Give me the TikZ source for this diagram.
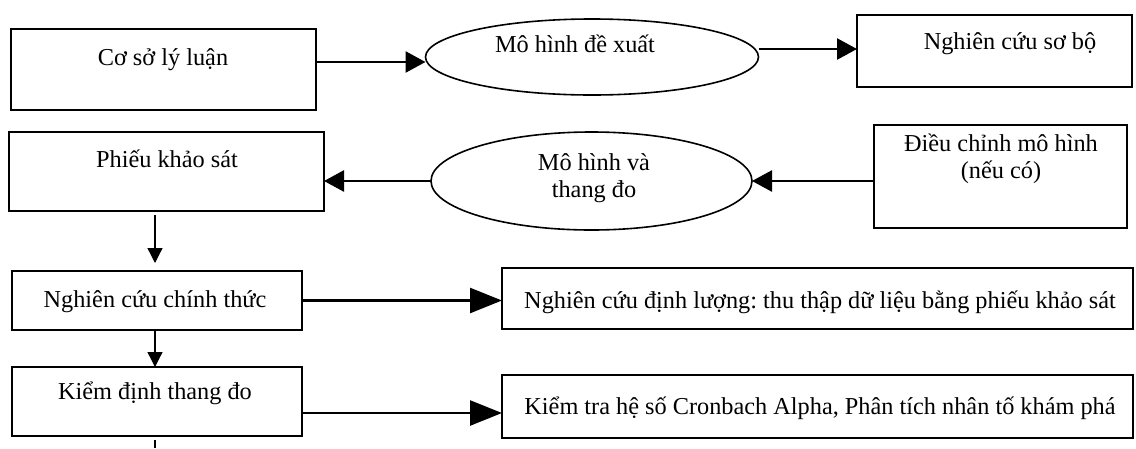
\documentclass[tikz,border=0pt]{standalone}
\usepackage{fontspec}
\setmainfont{Liberation Serif}
\usetikzlibrary{shapes.geometric,arrows.meta}
\frenchspacing
\begin{document}
\begin{tikzpicture}[x=1pt,y=-1pt,
  box/.style={draw, line width=1.6pt, rectangle, inner sep=0pt, outer sep=0pt},
  oval/.style={draw, line width=1.6pt, ellipse, inner sep=0pt, outer sep=0pt},
  txt/.style={font=\fontsize{24.3}{27}\selectfont, inner sep=0pt, align=center},
  bigarr/.style={line width=2.6pt, -{Triangle[length=20pt,width=21pt]}},
  hugearr/.style={line width=2.6pt, -{Triangle[length=32pt,width=25pt]}},
  thinarr/.style={line width=1.3pt, -{Triangle[length=15pt,width=15pt]}},
]
\useasboundingbox[fill=white] (0,0) rectangle (1136,448);

% row 1
\node[box, minimum width=305pt, minimum height=81pt] (b1) at (163.5,69.5) {};
\node[txt, anchor=base] (b1t) at (163,65) {Cơ sở lý luận};
\node[oval, minimum width=333pt, minimum height=76pt] (e1) at (592,57) {};
\node[txt, anchor=base] (e1t) at (575,52) {Mô hình đề xuất};
\node[box, minimum width=275pt, minimum height=72pt] (b3) at (994.5,51) {};
\node[txt, anchor=base] (b3t) at (1010,49) {Nghiên cứu sơ bộ};

% row 2
\node[box, minimum width=315pt, minimum height=79pt] (pk) at (166.5,171.5) {};
\node[txt, anchor=base] (pkt) at (167,167) {Phiếu khảo sát};
\node[oval, minimum width=321pt, minimum height=98pt] (e2) at (591.5,181) {};
\node[txt] (e2t) at (594,178.5) {Mô hình và\\thang đo};
\node[box, minimum width=253pt, minimum height=103pt] (dc) at (1000.5,176.5) {};
\node[txt] (dct) at (1001,158.5) {Điều chỉnh mô hình\\(nếu có)};

% row 3
\node[box, minimum width=290pt, minimum height=59pt] (nc) at (157,300.5) {};
\node[txt, anchor=base] (nct) at (155,307) {Nghiên cứu chính thức};
\node[box, minimum width=631pt, minimum height=61pt] (dl) at (817.5,298.5) {};
\node[txt, anchor=base] (dlt) at (820,308) {Nghiên cứu định lượng: thu thập dữ liệu bằng phiếu khảo sát};

% row 4
\node[box, minimum width=290pt, minimum height=69pt] (kd) at (157,401.5) {};
\node[txt, anchor=base] (kdt) at (155,399) {Kiểm định thang đo};
\node[box, minimum width=631pt, minimum height=63pt] (kt) at (817.5,406.5) {};
\node[txt, anchor=base] (ktt) at (820,414) {Kiểm tra hệ số Cronbach Alpha, Phân tích nhân tố khám phá};

% connectors
\draw[bigarr] ([yshift=7.5pt]b1.east) -- ([yshift=7.5pt]b1.east -| e1.west);
\draw[bigarr] ([yshift=8pt]e1.east) -- ([yshift=8pt]e1.east -| b3.west);
\draw[bigarr] (dc.west |- e2.east) -- (e2.east);
\draw[bigarr] (e2.west) -- (e2.west -| pk.east);
\draw[thinarr] ([xshift=-11.5pt,yshift=-4pt]pk.south) -- ([xshift=-2pt,yshift=8pt]nc.north);
\draw[thinarr] ([xshift=-2pt]nc.south) -- ([xshift=-2pt]kd.north);
\draw[hugearr] (nc.east) -- (nc.east -| dl.west);
\draw[hugearr] ([yshift=-11.5pt]kd.east) -- ([yshift=-11.5pt]kd.east -| kt.west);
\coordinate (bot) at (155,448);
\draw[line width=1.3pt] ([xshift=-2pt,yshift=-4pt]kd.south) -- (bot);
\end{tikzpicture}
\end{document}
